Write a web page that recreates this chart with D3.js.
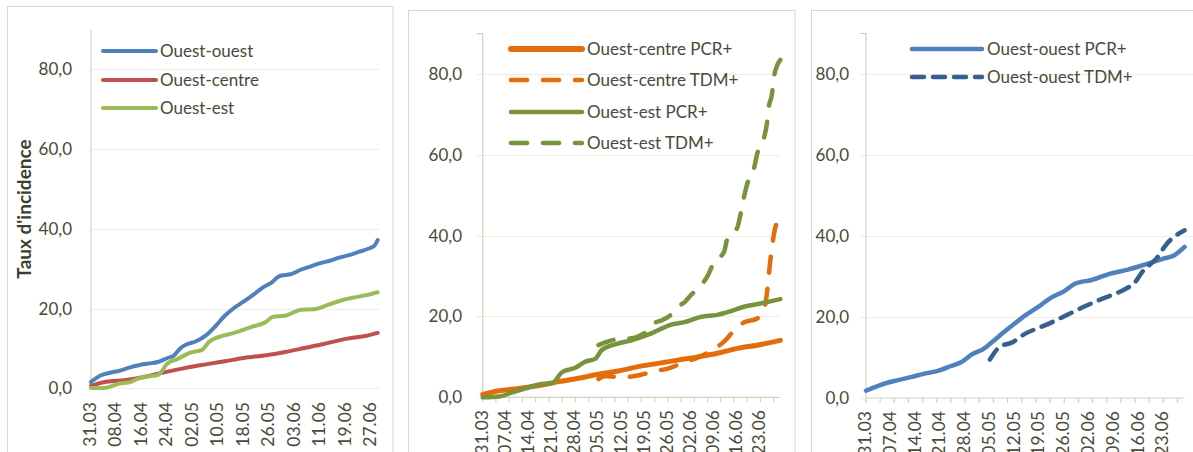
<!DOCTYPE html>
<html><head><meta charset="utf-8">
<script src="https://cdn.jsdelivr.net/npm/d3@7"></script>
<style>
body{margin:0;background:#fff}
svg{display:block}
text{font-family:Lato,"Open Sans",sans-serif}
</style>
</head><body>
<svg id="c" width="1193" height="452"></svg>
<script>
// ---------- data ----------
const yTickValues = [0, 20, 40, 60, 80];
const xLabels1 = ["31.03","08.04","16.04","24.04","02.05","10.05","18.05","26.05","03.06","11.06","19.06","27.06"];
const xLabelDays1 = [0, 8, 16, 24, 32, 40, 48, 56, 64, 72, 80, 88];
const xLabels23 = ["31.03","07.04","14.04","21.04","28.04","05.05","12.05","19.05","26.05","02.06","09.06","16.06","23.06"];
const xLabelDays23 = [0, 7, 14, 21, 28, 35, 42, 49, 56, 63, 70, 77, 84];
const xTickDays23 = [0,4,8,12,16,20,24,28,32,36,40,44,48,52,56,60,64,68,72,76,80,84,88];

// panel 1: [day, value]
const ouestOuest = [[0,1.6],[3,3.2],[6,3.9],[9,4.4],[12,5.2],[15,5.8],[18,6.2],[21,6.6],[24,7.6],[26,8.2],[28,10.0],[30,11.0],[33,11.8],[36,13.2],[39,15.5],[42,18.2],[45,20.2],[48,21.8],[51,23.5],[54,25.3],[57,26.7],[59,28.1],[63,28.7],[66,29.8],[69,30.6],[72,31.4],[75,32.0],[78,32.8],[81,33.4],[84,34.2],[87,35.0],[89,35.8],[90,37.2]];
const ouestCentre = [[0,0.6],[4,1.5],[11,2.1],[17,2.9],[23,4.0],[29,5.0],[36,6.0],[42,6.8],[48,7.6],[55,8.3],[61,9.1],[67,10.1],[73,11.1],[80,12.4],[86,13.1],[90,13.9]];
const ouestEst = [[0,0.1],[4,0.1],[9,1.2],[12,1.5],[15,2.5],[19,3.1],[21,3.3],[24,6.2],[27,7.3],[31,8.9],[35,9.7],[37,11.6],[41,13.1],[45,13.9],[50,15.3],[55,16.7],[57,17.9],[61,18.2],[66,19.7],[70,19.8],[75,21.1],[78,21.9],[82,22.7],[86,23.3],[90,24.1]];

// panel 2
const ouestCentrePCR = [[0,0.7],[5,1.6],[11,2.2],[17,2.9],[23,3.9],[29,4.7],[35,5.7],[41,6.5],[47,7.6],[53,8.4],[59,9.2],[65,10.0],[71,10.9],[77,12.1],[83,12.9],[90,14.1]];
const ouestCentreTDM = [[35,4.5],[37,5.2],[40,5.1],[43,5.0],[48,5.6],[52,6.5],[56,7.1],[61,8.7],[65,9.8],[69,11.5],[73,13.8],[76,16.5],[79,18.5],[83,19.5],[85,21.6],[86,26.0],[87,34.0],[88,40.0],[90,45.0]];
const ouestEstPCR = [[0,0],[5,0.2],[9,1.2],[13,2.2],[17,3.2],[21,3.5],[24,6.2],[28,7.3],[31,8.8],[34,9.5],[36,11.7],[40,13.1],[45,14.1],[51,15.8],[57,18.0],[61,18.6],[66,19.9],[71,20.4],[75,21.3],[79,22.4],[84,23.2],[90,24.3]];
const ouestEstTDM = [[35,12.9],[37,13.6],[39,14.1],[42,14.5],[45,14.6],[48,15.5],[50,16.5],[52,18.4],[54,19.0],[57,20.5],[59,22.4],[61,23.5],[63,25.3],[66,27.7],[68,30.0],[70,33.5],[73,36.0],[74,39.3],[77,42.0],[78,45.4],[79,49.5],[80,52.8],[82,56.5],[83,60.2],[85,64.0],[86,68.0],[86.5,71.8],[87.5,75.1],[88,79.0],[90,83.5]];

// panel 3
const ouestOuestPCR = [[0,1.8],[4,3.2],[8,4.2],[13,5.2],[16,5.9],[21,6.9],[24,7.9],[27,8.9],[30,10.8],[33,12.0],[36,14.1],[39,16.3],[42,18.4],[45,20.4],[49,22.7],[52,24.6],[56,26.4],[59,28.2],[64,29.2],[69,30.7],[74,31.7],[79,33.0],[84,34.4],[87,35.2],[90,37.3]];
const ouestOuestTDM = [[35,9.5],[38,12.8],[41,13.6],[45,15.9],[49,17.4],[52,18.5],[57,20.6],[62,22.7],[67,24.6],[70,25.6],[73,26.8],[76,28.6],[78,31.1],[82,34.4],[85,38.1],[90,41.4]];

// ---------- drawing ----------
const svg = d3.select("#c");
const textColor = "#4b4939";
const axisColor = "#d6d2ba";
const gridColor = "#efede3";
const frameColor = "#dcd8c3";
const fmt = d3.formatLocale({decimal:",", thousands:" ", grouping:[3], currency:["","€"]}).format(".1f");

const panels = [
  {
    frame:[7.5,6.5,385.5,470], xr:[91,377.7], yr:[388.3,29.5], yTick:0, labelRight:72, gridLeft:91, gridRight:379,
    xAxisLine:false, labels:xLabels1, labelDays:xLabelDays1, tickDays:[], labelTop:402,
    legend:{x1:103,x2:156,tx:160,rows:[51,80,108]},
    series:[
      {name:"Ouest-ouest", data:ouestOuest, color:"#4f81bd", w:4},
      {name:"Ouest-centre", data:ouestCentre, color:"#c0504d", w:4},
      {name:"Ouest-est", data:ouestEst, color:"#9bbb59", w:4}
    ]
  },
  {
    frame:[408.5,10.5,386.5,470], xr:[482.7,780.3], yr:[397.3,33.6], yTick:6, labelRight:462, gridLeft:476.7, gridRight:780.3,
    xAxisLine:true, labels:xLabels23, labelDays:xLabelDays23, tickDays:xTickDays23, labelTop:410,
    legend:{x1:511,x2:582,tx:587,rows:[49,80,112,143]},
    series:[
      {name:"Ouest-centre PCR+", data:ouestCentrePCR, color:"#e46c0a", w:5, lw:6},
      {name:"Ouest-centre TDM+", data:ouestCentreTDM, color:"#e46c0a", w:4.5, dash:"16,16"},
      {name:"Ouest-est PCR+", data:ouestEstPCR, color:"#77933c", w:4.5},
      {name:"Ouest-est TDM+", data:ouestEstTDM, color:"#77933c", w:4.5, dash:"16,16"}
    ],
    drawOrder:[1,3,0,2]
  },
  {
    frame:[811.5,10.5,400,470], xr:[866,1184.6], yr:[398,33.5], yTick:6, labelRight:849, gridLeft:860, gridRight:1193,
    xAxisLine:true, labels:xLabels23, labelDays:xLabelDays23, tickDays:xTickDays23, labelTop:411,
    legend:{x1:912,x2:982,tx:987,rows:[49,77]},
    series:[
      {name:"Ouest-ouest PCR+", data:ouestOuestPCR, color:"#4f81bd", w:4.5},
      {name:"Ouest-ouest TDM+", data:ouestOuestTDM, color:"#376092", w:4.5, dash:"12,9"}
    ]
  }
];

panels.forEach((p, pi) => {
  const g = svg.append("g");
  g.append("rect").attr("x",p.frame[0]).attr("y",p.frame[1]).attr("width",p.frame[2]).attr("height",p.frame[3])
    .attr("fill","#fff").attr("stroke",frameColor).attr("stroke-width",1);

  const x = d3.scaleLinear().domain([0,90]).range(p.xr);
  const y = d3.scaleLinear().domain([0,90]).range(p.yr);

  // gridlines
  g.selectAll(".grid").data(yTickValues.filter(v => v > 0 || !p.xAxisLine)).enter().append("line")
    .attr("x1",p.gridLeft).attr("x2",p.gridRight)
    .attr("y1",d=>Math.round(y(d))+0.5).attr("y2",d=>Math.round(y(d))+0.5)
    .attr("stroke",gridColor).attr("stroke-width",1.2);

  // y axis
  const yAxis = d3.axisLeft(y).tickValues(yTickValues).tickFormat(fmt).tickSize(p.yTick).tickPadding(p.xr[0]-p.labelRight-p.yTick);
  const ya = g.append("g").attr("transform",`translate(${p.xr[0]},0)`).call(yAxis);
  ya.select(".domain").attr("stroke",axisColor).attr("stroke-width",1.2).attr("d",`M${-p.yTick},${p.yr[1]}H0V${p.yr[0]}`);
  if (!p.yTick) ya.select(".domain").attr("d",`M0,${p.yr[1]}V${p.yr[0]}`);
  ya.selectAll(".tick line").attr("stroke", p.yTick ? gridColor : "none");
  ya.selectAll(".tick text").attr("fill",textColor).style("font-size","17px").style("font-family","Lato");

  // x axis
  if (p.xAxisLine) {
    g.append("line").attr("x1",p.xr[0]).attr("x2",p.xr[1]).attr("y1",p.yr[0]).attr("y2",p.yr[0])
      .attr("stroke",axisColor).attr("stroke-width",1.2);
    g.selectAll(".xt").data(p.tickDays).enter().append("line")
      .attr("x1",d=>x(d)).attr("x2",d=>x(d)).attr("y1",p.yr[0]).attr("y2",p.yr[0]+5)
      .attr("stroke",axisColor).attr("stroke-width",1.2);
  }
  g.selectAll(".xl").data(p.labels).enter().append("text")
    .attr("transform",(d,i)=>`translate(${x(p.labelDays[i])+5},${p.labelTop}) rotate(-90)`)
    .attr("text-anchor","end")
    .attr("fill",textColor).style("font-size","17.5px")
    .text(d=>d);

  // lines
  const line = d3.line().x(d=>x(d[0])).y(d=>y(d[1])).curve(d3.curveMonotoneX);
  const order = p.drawOrder || p.series.map((s,i)=>i);
  order.forEach(i => {
    const s = p.series[i];
    g.append("path").attr("d",line(s.data)).attr("fill","none")
      .attr("stroke",s.color).attr("stroke-width",s.w)
      .attr("stroke-linecap","round").attr("stroke-linejoin","round")
      .attr("stroke-dasharray",s.dash||null);
  });

  // legend
  p.series.forEach((s,i) => {
    const ry = p.legend.rows[i];
    g.append("line").attr("x1",p.legend.x1).attr("x2",p.legend.x2).attr("y1",ry).attr("y2",ry)
      .attr("stroke",s.color).attr("stroke-width",s.lw||s.w)
      .attr("stroke-linecap","round").attr("stroke-dasharray",s.dash||null);
    g.append("text").attr("x",p.legend.tx).attr("y",ry).attr("dy","0.36em")
      .attr("fill",textColor).style("font-size","17px").text(s.name);
  });

  if (pi === 0) {
    g.append("text").attr("transform","translate(31,209) rotate(-90)")
      .attr("text-anchor","middle").attr("fill","#3f3d2f")
      .style("font-size","19px").style("font-weight","bold").text("Taux d'incidence");
  }
});
</script>
</body></html>
